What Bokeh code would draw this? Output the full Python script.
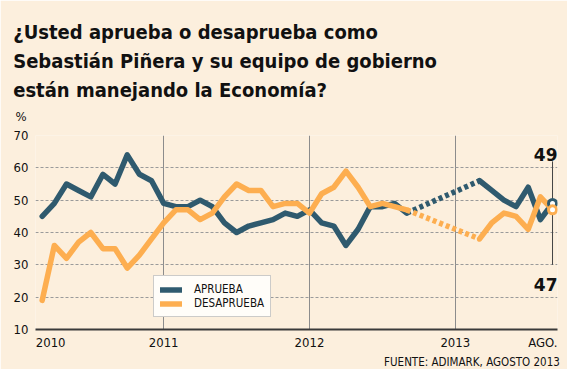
from bokeh.plotting import figure
from bokeh.models import Range1d, FixedTicker, Label, Legend, LegendItem, Title
from bokeh.embed import file_html
from bokeh.resources import INLINE

# ---------------- data ----------------
title_lines = [
    "¿Usted aprueba o desaprueba como",
    "Sebastián Piñera y su equipo de gobierno",
    "están manejando la Economía?",
]
unit_label = "%"
source_note = "FUENTE: ADIMARK, AGOSTO 2013"

# x = month index (0 = start of 2010)
months_a = list(range(2, 33))
months_b = list(range(38, 45))

aprueba_a = [45, 49, 55, 53, 51, 58, 55, 64, 58, 56, 49, 48, 48, 50, 48, 43,
             40, 42, 43, 44, 46, 45, 47, 43, 42, 36, 41, 48, 48, 49, 46]
desaprueba_a = [19, 36, 32, 37, 40, 35, 35, 29, 33, 38, 43, 47, 47, 44, 46, 51,
                55, 53, 53, 48, 49, 49, 46, 52, 54, 59, 54, 48, 49, 48, 47]
aprueba_b = [56, 53, 50, 48, 54, 44, 49]
desaprueba_b = [38, 43, 46, 45, 41, 51, 47]

series_names = ["APRUEBA", "DESAPRUEBA"]

x_tick_pos = [2.7, 12, 24, 36, 43.2]
x_tick_labels = ["2010", "2011", "2012", "2013", "AGO."]
year_lines = [12, 24, 36]
y_ticks = [10, 20, 30, 40, 50, 60, 70]

# ---------------- style ----------------
FONT = "DejaVu Sans Condensed"
BG = "#FCEFDD"
DARK = "#2F5A6E"
ORANGE = "#FDAE50"
TXT = "#111111"
LW = 5.5

p = figure(width=567, height=369, output_backend="svg", toolbar_location=None,
           x_range=Range1d(1.45, 44.41), y_range=Range1d(10, 70),
           min_border_left=35, min_border_right=10, min_border_top=0,
           min_border_bottom=0)
p.background_fill_color = BG
p.border_fill_color = BG
p.outline_line_color = None

xa = p.xaxis[0]
xa.ticker = FixedTicker(ticks=x_tick_pos)
xa.major_label_overrides = {pos: lab for pos, lab in zip(x_tick_pos, x_tick_labels)}
xa.major_label_text_font = FONT
xa.major_label_text_font_size = "13px"
xa.major_label_text_color = TXT
xa.major_tick_line_color = None
xa.minor_tick_line_color = None
xa.major_tick_out = 0
xa.major_tick_in = 0
xa.minor_tick_out = 0
xa.axis_line_color = "#3A3A3A"
xa.axis_line_width = 2
xa.major_label_standoff = 5

ya = p.yaxis[0]
ya.ticker = FixedTicker(ticks=y_ticks)
ya.major_label_text_font = FONT
ya.major_label_text_font_size = "13px"
ya.major_label_text_color = TXT
ya.major_tick_line_color = None
ya.minor_tick_line_color = None
ya.major_tick_out = 0
ya.major_tick_in = 0
ya.minor_tick_out = 0
ya.axis_line_color = None
ya.major_label_standoff = 7

p.xgrid.ticker = FixedTicker(ticks=year_lines)
p.xgrid.grid_line_color = "#8C8C8C"
p.xgrid.grid_line_width = 1
p.ygrid.ticker = FixedTicker(ticks=y_ticks[1:])
p.ygrid.grid_line_color = "#9A9A9A"
p.ygrid.grid_line_dash = "3 2"
p.ygrid.grid_line_width = 1


def draw(series_a, series_b, color):
    r = p.line(months_a, series_a, line_color=color, line_width=LW,
               line_join="round", line_cap="round")
    p.line([months_a[-1], months_b[0]], [series_a[-1], series_b[0]],
           line_color=color, line_width=LW, line_dash="4 3")
    p.line(months_b, series_b, line_color=color, line_width=LW,
           line_join="round", line_cap="round")
    return r


r_a = draw(aprueba_a, aprueba_b, DARK)
r_d = draw(desaprueba_a, desaprueba_b, ORANGE)

# leader line and end markers for the latest values
p.segment(x0=[months_b[-1]], y0=[aprueba_b[-1] + 13],
          x1=[months_b[-1]], y1=[desaprueba_b[-1] - 17],
          line_color="#444444", line_width=1)
p.scatter([months_b[-1]], [aprueba_b[-1]], size=8, fill_color="white",
          line_color=DARK, line_width=3)
p.scatter([months_b[-1]], [desaprueba_b[-1]], size=8, fill_color="white",
          line_color=ORANGE, line_width=3)

p.add_layout(Label(x=months_b[-1], y=aprueba_b[-1], x_offset=5, y_offset=49,
                   text=str(aprueba_b[-1]), text_align="right",
                   text_baseline="alphabetic", text_font="DejaVu Sans",
                   text_font_style="bold", text_font_size="17px", text_color=TXT))
p.add_layout(Label(x=months_b[-1], y=desaprueba_b[-1], x_offset=5, y_offset=-74.5,
                   text=str(desaprueba_b[-1]), text_align="right",
                   text_baseline="alphabetic", text_font="DejaVu Sans",
                   text_font_style="bold", text_font_size="17px", text_color=TXT))

legend = Legend(items=[LegendItem(label=series_names[0], renderers=[r_a]),
                       LegendItem(label=series_names[1], renderers=[r_d])],
                location=(118, 12), orientation="vertical", margin=0,
                padding=6, spacing=0, glyph_width=22, glyph_height=13,
                label_height=13, label_standoff=12,
                label_text_font=FONT, label_text_font_size="11.5px",
                label_text_color=TXT,
                background_fill_color="#FFFDF9", background_fill_alpha=1,
                border_line_color="#9A9A9A", border_line_width=1)
p.add_layout(legend)

# ---------------- titles (above: nearest to the frame first) ----------------
def title(text, size, standoff, offset=-22.3, bold=True, align="left"):
    return Title(text=text, align=align, offset=offset, standoff=standoff,
                 vertical_align="bottom", text_font=FONT, text_font_size=size,
                 text_font_style="bold" if bold else "normal", text_color=TXT)

p.add_layout(title(" ", "4px", 0.7), "above")                    # spacer
p.add_layout(title(unit_label, "13px", 6.5, offset=-20, bold=False), "above")
for line in reversed(title_lines):
    p.add_layout(title(line, "20px", 3.1), "above")
p.add_layout(title(" ", "10px", 3.35), "above")                  # spacer

# source note (below the x axis)
p.add_layout(title(source_note, "11.5px", 1.3, offset=-2.3, bold=False,
                   align="right"), "below")

open("out.html", "w").write(file_html(p, INLINE))
